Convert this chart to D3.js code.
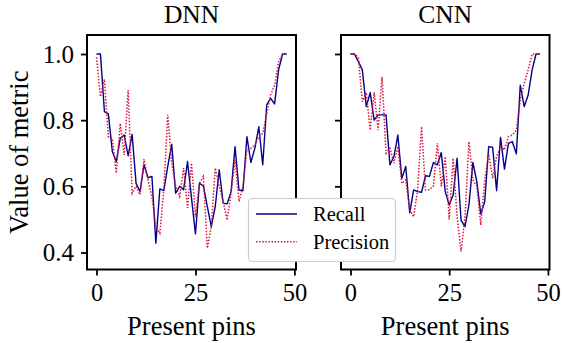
<!DOCTYPE html>
<html><head><meta charset="utf-8">
<script src="https://cdn.jsdelivr.net/npm/d3@7/dist/d3.min.js"></script>
<style>
body{margin:0;background:#fff}
svg{display:block}
text{font-family:"Liberation Serif","Times New Roman",serif;fill:#000}
</style>
</head><body>
<script>
const pins = [0,1,2,3,4,5,6,7,8,9,10,11,12,13,14,15,16,17,18,19,20,21,22,23,24,25,26,27,28,29,30,31,32,33,34,35,36,37,38,39,40,41,42,43,44,45,46,47,48];
const panelTitles = ["DNN", "CNN"];
const seriesNames = ["Recall", "Precision"];
const xTicks = [0, 25, 50];
const yTicks = [0.4, 0.6, 0.8, 1.0];

const dnnRecall = [1.0,1.0,0.826,0.819,0.705,0.675,0.745,0.755,0.692,0.757,0.609,0.584,0.665,0.626,0.63,0.428,0.592,0.587,0.66,0.727,0.579,0.60,0.59,0.675,0.565,0.456,0.609,0.601,0.539,0.478,0.539,0.65,0.549,0.547,0.584,0.72,0.589,0.587,0.75,0.672,0.715,0.78,0.665,0.846,0.866,0.849,0.952,1.0,1.0];
const dnnPrecision = [0.99,0.871,0.924,0.75,0.745,0.64,0.79,0.695,0.891,0.579,0.60,0.575,0.682,0.619,0.569,0.478,0.458,0.589,0.816,0.67,0.60,0.569,0.655,0.535,0.67,0.508,0.609,0.63,0.413,0.478,0.655,0.60,0.554,0.498,0.579,0.68,0.554,0.60,0.71,0.715,0.725,0.75,0.76,0.82,0.876,0.906,0.977,1.0,1.0];
const cnnRecall = [1.0,1.0,0.977,0.952,0.841,0.883,0.80,0.816,0.816,0.816,0.665,0.69,0.755,0.624,0.66,0.52,0.589,0.584,0.582,0.632,0.63,0.672,0.665,0.702,0.584,0.544,0.574,0.685,0.498,0.478,0.544,0.672,0.614,0.516,0.554,0.72,0.718,0.587,0.748,0.652,0.73,0.735,0.698,0.906,0.841,0.876,0.952,1.0,1.0];
const cnnPrecision = [1.0,1.0,0.99,0.856,0.884,0.77,0.884,0.77,0.931,0.70,0.715,0.67,0.72,0.609,0.62,0.53,0.508,0.589,0.78,0.589,0.59,0.60,0.73,0.60,0.69,0.50,0.685,0.508,0.403,0.508,0.735,0.619,0.60,0.483,0.619,0.70,0.624,0.69,0.72,0.71,0.75,0.755,0.77,0.861,0.911,0.952,1.0,1.0,1.0];

const W = 562, H = 343;
const svg = d3.select("body").append("svg").attr("width", W).attr("height", H);

const plotTop = 35, plotBottom = 269.5;
const panels = [
  {title: panelTitles[0], x0: 87, x1: 296, recall: dnnRecall, precision: dnnPrecision, yLabels: true},
  {title: panelTitles[1], x0: 341, x1: 549.5, recall: cnnRecall, precision: cnnPrecision, yLabels: false}
];
const y = d3.scaleLinear().domain([0.3486, 1.0574]).range([plotBottom, plotTop]);
const blue = "#00008b", red = "#dc143c";

panels.forEach(p => {
  const x = d3.scaleLinear().domain([-2.4, 50.4]).range([p.x0, p.x1]);
  const g = svg.append("g");
  const line = d3.line().x((d, i) => x(pins[i])).y(d => y(d));
  g.append("path").datum(p.recall).attr("d", line)
    .attr("fill", "none").attr("stroke", blue).attr("stroke-width", 1.4).attr("stroke-linejoin", "round");
  g.append("path").datum(p.precision).attr("d", line)
    .attr("fill", "none").attr("stroke", red).attr("stroke-width", 1.5).attr("stroke-dasharray", "1.5,1.6");

  const xa = g.append("g").attr("transform", `translate(0,${plotBottom})`)
    .call(d3.axisBottom(x).tickValues(xTicks).tickSize(6).tickPadding(6).tickFormat(d3.format("d")));
  xa.select(".domain").remove();
  xa.selectAll("line").attr("stroke", "#000").attr("stroke-width", 1.8);
  xa.selectAll("text").attr("font-size", 24.5).attr("font-family", '"Liberation Serif",serif').attr("fill", "#000")
    .attr("dy", null).attr("y", 31.5);

  const ya = g.append("g").attr("transform", `translate(${p.x0},0)`)
    .call(d3.axisLeft(y).tickValues(yTicks).tickSize(6).tickPadding(6).tickFormat(d3.format(".1f")));
  ya.select(".domain").remove();
  ya.selectAll("line").attr("stroke", "#000").attr("stroke-width", 1.8);
  ya.selectAll("text").attr("font-size", 25).attr("font-family", '"Liberation Serif",serif').attr("fill", "#000")
    .attr("x", -13).attr("dy", "0.34em");
  if (!p.yLabels) ya.selectAll("text").remove();

  g.append("rect").attr("x", p.x0).attr("y", plotTop).attr("width", p.x1 - p.x0).attr("height", plotBottom - plotTop)
    .attr("fill", "none").attr("stroke", "#000").attr("stroke-width", 2);

  g.append("text").attr("x", (p.x0 + p.x1) / 2).attr("y", 22.5).attr("text-anchor", "middle")
    .attr("font-size", 25.5).text(p.title);
  g.append("text").attr("x", (p.x0 + p.x1) / 2).attr("y", 334.5).attr("text-anchor", "middle")
    .attr("font-size", 26.5).text("Present pins");
});

svg.append("text").attr("transform", `translate(28,${(plotTop + plotBottom) / 2}) rotate(-90)`)
  .attr("text-anchor", "middle").attr("font-size", 26.5).text("Value of metric");

const lg = svg.append("g");
lg.append("rect").attr("x", 248.5).attr("y", 198.5).attr("width", 147).attr("height", 63).attr("rx", 4)
  .attr("fill", "#fff").attr("stroke", "#cccccc").attr("stroke-width", 1.2);
const legendItems = [{name: seriesNames[0], color: blue, dash: null, w: 1.4}, {name: seriesNames[1], color: red, dash: "1.5,1.6", w: 1.5}];
legendItems.forEach((it, i) => {
  const yy = 214 + i * 27.7;
  lg.append("line").attr("x1", 256).attr("x2", 297).attr("y1", yy).attr("y2", yy)
    .attr("stroke", it.color).attr("stroke-width", it.w).attr("stroke-dasharray", it.dash);
  lg.append("text").attr("x", 313).attr("y", yy + 6.8).attr("font-size", 20.5).text(it.name);
});
</script>
</body></html>
